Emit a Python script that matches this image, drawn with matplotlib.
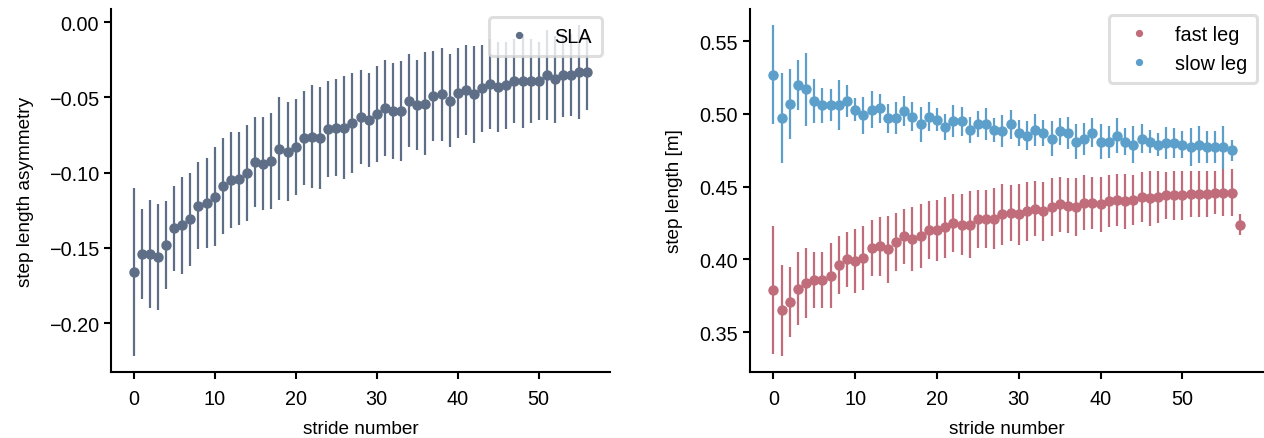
import numpy as np
import matplotlib
matplotlib.use('Agg')
import matplotlib.pyplot as plt
from matplotlib.lines import Line2D

# step length asymmetry per stride (mean, error)
sla = [-0.166, -0.154, -0.154, -0.156, -0.148, -0.137, -0.135, -0.131, -0.122, -0.120,
       -0.116, -0.109, -0.105, -0.104, -0.100, -0.093, -0.094, -0.092, -0.084, -0.086,
       -0.083, -0.077, -0.076, -0.077, -0.071, -0.070, -0.070, -0.067, -0.063, -0.065,
       -0.061, -0.057, -0.059, -0.059, -0.052, -0.055, -0.054, -0.049, -0.048, -0.052,
       -0.047, -0.045, -0.048, -0.044, -0.041, -0.043, -0.042, -0.039, -0.039, -0.039,
       -0.039, -0.035, -0.038, -0.035, -0.035, -0.033, -0.033]
sla_err = [0.056, 0.030, 0.036, 0.035, 0.029, 0.028, 0.032, 0.031, 0.029, 0.030,
           0.033, 0.032, 0.032, 0.031, 0.032, 0.030, 0.031, 0.032, 0.034, 0.033,
           0.032, 0.031, 0.034, 0.034, 0.032, 0.032, 0.034, 0.033, 0.031, 0.031,
           0.032, 0.032, 0.032, 0.033, 0.031, 0.030, 0.034, 0.030, 0.031, 0.031,
           0.030, 0.030, 0.032, 0.029, 0.030, 0.030, 0.029, 0.028, 0.031, 0.028,
           0.026, 0.030, 0.029, 0.028, 0.027, 0.031, 0.025]

# step length of fast and slow leg [m]
fast = [0.379, 0.365, 0.371, 0.380, 0.384, 0.386, 0.386, 0.389, 0.396, 0.400,
        0.399, 0.401, 0.408, 0.409, 0.407, 0.412, 0.416, 0.414, 0.416, 0.420,
        0.420, 0.422, 0.425, 0.424, 0.424, 0.428, 0.428, 0.428, 0.431, 0.432,
        0.431, 0.433, 0.435, 0.433, 0.436, 0.438, 0.437, 0.436, 0.439, 0.439,
        0.438, 0.440, 0.441, 0.440, 0.441, 0.443, 0.442, 0.443, 0.444, 0.444,
        0.444, 0.445, 0.445, 0.445, 0.446, 0.446, 0.446, 0.424]
fast_err = [0.044, 0.031, 0.024, 0.025, 0.024, 0.019, 0.019, 0.022, 0.020, 0.019,
            0.022, 0.022, 0.019, 0.020, 0.023, 0.020, 0.019, 0.022, 0.022, 0.020,
            0.021, 0.021, 0.020, 0.021, 0.023, 0.020, 0.020, 0.021, 0.021, 0.019,
            0.021, 0.020, 0.019, 0.020, 0.020, 0.019, 0.019, 0.020, 0.019, 0.018,
            0.019, 0.018, 0.018, 0.019, 0.017, 0.017, 0.019, 0.018, 0.016, 0.017,
            0.017, 0.016, 0.016, 0.016, 0.015, 0.016, 0.016, 0.0075]
slow = [0.527, 0.497, 0.507, 0.520, 0.517, 0.509, 0.506, 0.506, 0.506, 0.509,
        0.503, 0.499, 0.503, 0.504, 0.497, 0.497, 0.502, 0.498, 0.493, 0.498,
        0.496, 0.491, 0.495, 0.495, 0.489, 0.493, 0.493, 0.489, 0.488, 0.493,
        0.487, 0.485, 0.489, 0.487, 0.483, 0.488, 0.487, 0.481, 0.483, 0.487,
        0.481, 0.481, 0.485, 0.481, 0.479, 0.483, 0.481, 0.479, 0.480, 0.480,
        0.479, 0.477, 0.479, 0.477, 0.477, 0.477, 0.475]
slow_err = [0.034, 0.031, 0.024, 0.017, 0.025, 0.015, 0.012, 0.011, 0.017, 0.011,
            0.008, 0.0125, 0.0125, 0.010, 0.010, 0.011, 0.010, 0.010, 0.012, 0.010,
            0.008, 0.009, 0.011, 0.010, 0.009, 0.009, 0.011, 0.008, 0.011, 0.010,
            0.009, 0.010, 0.011, 0.009, 0.012, 0.009, 0.011, 0.012, 0.011, 0.010,
            0.012, 0.011, 0.012, 0.009, 0.013, 0.010, 0.008, 0.008, 0.011, 0.010,
            0.009, 0.013, 0.013, 0.011, 0.011, 0.015, 0.007]

c_sla = '#5e6e87'
c_fast = '#c06c7a'
c_slow = '#5b9fca'

plt.rcParams['font.family'] = ['Liberation Sans', 'DejaVu Sans']
plt.rcParams['font.size'] = 13.7
plt.rcParams['xtick.labelsize'] = 14.3
plt.rcParams['ytick.labelsize'] = 14.3
plt.rcParams['axes.linewidth'] = 1.5
plt.rcParams['xtick.major.width'] = 1.5
plt.rcParams['ytick.major.width'] = 1.5
plt.rcParams['xtick.major.size'] = 5
plt.rcParams['ytick.major.size'] = 5
plt.rcParams['xtick.major.pad'] = 7

fig = plt.figure(figsize=(12.64, 4.39), dpi=100)
ax1 = fig.add_axes([111/1264, 66/439, 499/1264, 363/439])
ax2 = fig.add_axes([750/1264, 66/439, 513/1264, 363/439])

ms = 6.5
x1 = np.arange(len(sla))
ax1.errorbar(x1, sla, yerr=sla_err, fmt='o', color=c_sla, ms=ms, elinewidth=1.6, capsize=0)
ax1.set_xlim(-2.8, 58.8)
ax1.set_ylim(-0.2324, 0.0088)
ax1.set_xlabel('stride number', labelpad=9)
ax1.set_ylabel('step length asymmetry', labelpad=10.5)
h1 = [Line2D([], [], ls='none', marker='o', color=c_sla, ms=ms * 0.65)]
ax1.legend(h1, ['SLA'], loc='upper right', framealpha=0.8, edgecolor='#d6d6d6',
           fontsize=14.3, borderaxespad=0.4, borderpad=0.5).get_frame().set_linewidth(2.2)

x2 = np.arange(len(fast))
x3 = np.arange(len(slow))
ax2.errorbar(x2, fast, yerr=fast_err, fmt='o', color=c_fast, ms=ms, elinewidth=1.6, capsize=0)
ax2.errorbar(x3, slow, yerr=slow_err, fmt='o', color=c_slow, ms=ms, elinewidth=1.6, capsize=0)
ax2.set_xlim(-2.85, 59.85)
ax2.set_ylim(0.3227, 0.5721)
ax2.set_xlabel('stride number', labelpad=9)
ax2.set_ylabel('step length [m]', labelpad=12)
h2 = [Line2D([], [], ls='none', marker='o', color=c_fast, ms=ms * 0.65),
      Line2D([], [], ls='none', marker='o', color=c_slow, ms=ms * 0.65)]
ax2.legend(h2, ['fast leg', 'slow leg'], loc='upper right', framealpha=0.8,
           edgecolor='#d6d6d6', fontsize=14.3, borderaxespad=0.3,
           borderpad=0.5).get_frame().set_linewidth(2.2)

for ax in (ax1, ax2):
    ax.spines['top'].set_visible(False)
    ax.spines['right'].set_visible(False)

fig.savefig('out.png', dpi=100)
